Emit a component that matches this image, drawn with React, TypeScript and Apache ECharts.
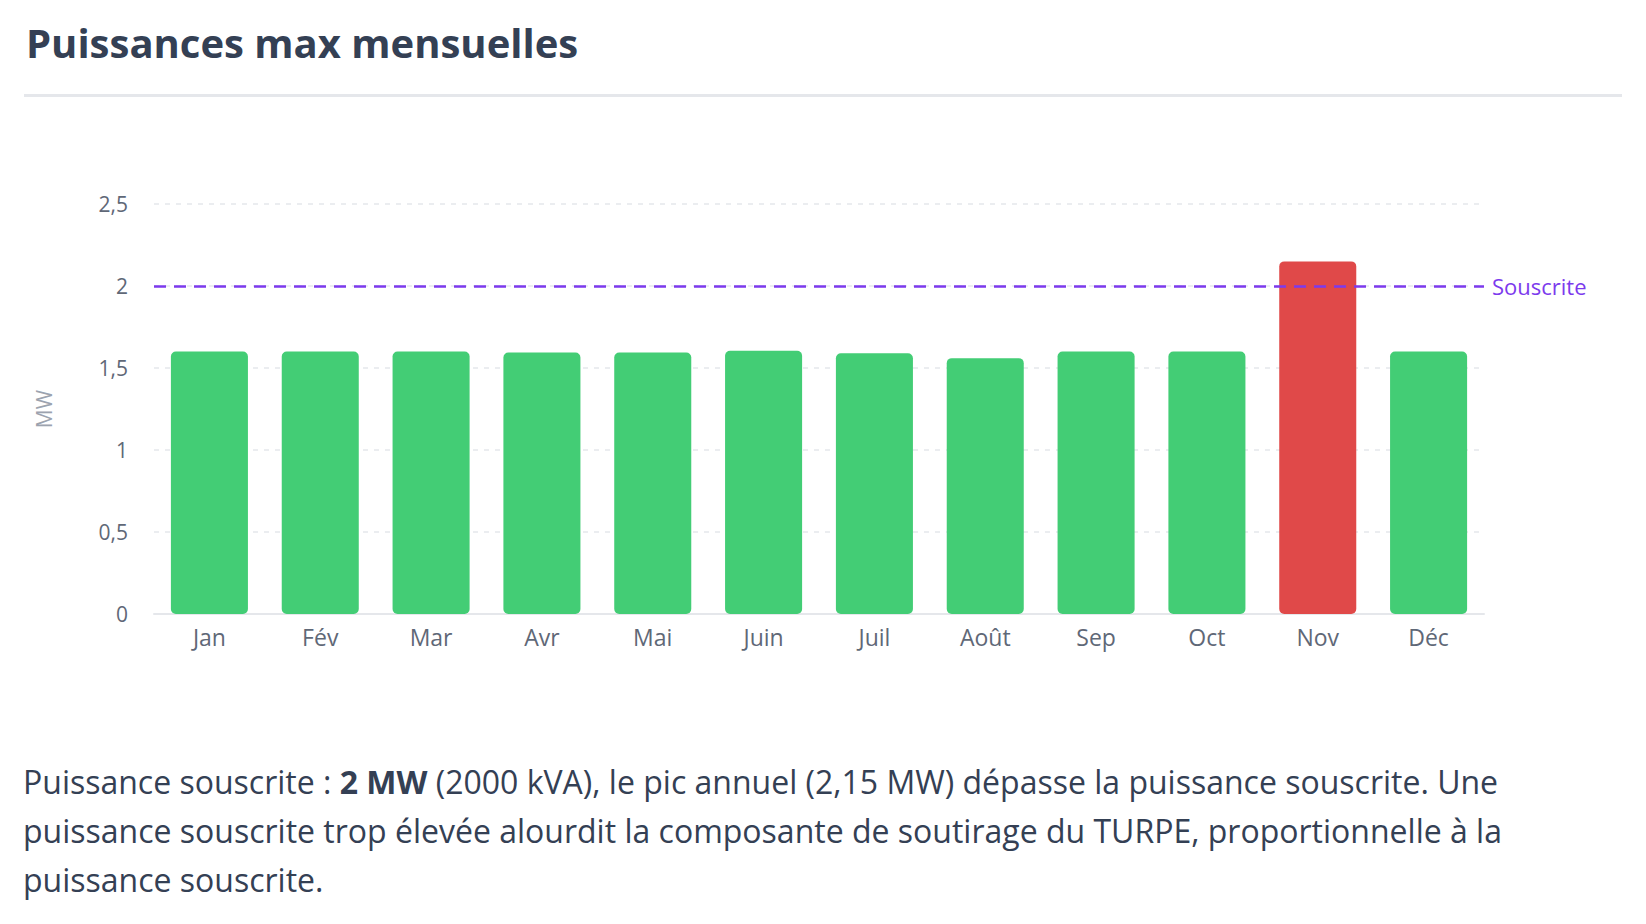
import React, { useEffect, useRef } from "react";
import * as echarts from "echarts";

// Monthly maximum demand (MW)
const months = ["Jan", "Fév", "Mar", "Avr", "Mai", "Juin", "Juil", "Août", "Sep", "Oct", "Nov", "Déc"];
const peakMW = [1.6, 1.6, 1.6, 1.595, 1.595, 1.605, 1.59, 1.56, 1.6, 1.6, 2.15, 1.6];
const subscribedMW = 2;
const yTicks = { min: 0, max: 2.5, interval: 0.5 };

const titleText = "Puissances max mensuelles";
const noteLines = [
  "Puissance souscrite : {b|2 MW} (2000 kVA), le pic annuel (2,15 MW) dépasse la puissance souscrite. Une",
  "puissance souscrite trop élevée alourdit la composante de soutirage du TURPE, proportionnelle à la",
  "puissance souscrite.",
];

const FONT = "'Open Sans', 'Noto Sans', sans-serif";
const GREEN = "#43cd75";
const RED = "#e04949";
const PURPLE = "#7c3aed";
const INK = "#344054";
const AXIS_TEXT = "#5f6877";
const RULE = "#e5e7eb";

export default function App() {
  const ref = useRef<HTMLDivElement>(null);

  useEffect(() => {
    if (!ref.current) return;
    const chart = echarts.init(ref.current, undefined, { renderer: "svg" });

    const fmt = (v: number) => String(v).replace(".", ",");

    chart.setOption({
      animation: false,
      backgroundColor: "#ffffff",
      textStyle: { fontFamily: FONT },
      title: {
        text: titleText,
        left: 21,
        top: 17,
        textStyle: { fontFamily: FONT, fontSize: 40, fontWeight: 700, color: INK },
      },
      grid: { left: 154, right: 162, top: 204, bottom: 310, containLabel: false },
      xAxis: {
        type: "category",
        data: months,
        axisLine: { show: true, lineStyle: { color: RULE, width: 2 } },
        axisTick: { show: false },
        axisLabel: { color: AXIS_TEXT, fontSize: 23, margin: 11, fontFamily: FONT },
      },
      yAxis: {
        type: "value",
        min: yTicks.min,
        max: yTicks.max,
        interval: yTicks.interval,
        name: "MW",
        nameLocation: "middle",
        nameGap: 100,
        nameTextStyle: { color: "#9ca3af", fontSize: 21, fontFamily: FONT },
        axisLine: { show: false },
        axisTick: { show: false },
        axisLabel: { color: AXIS_TEXT, fontSize: 21, margin: 26, fontFamily: FONT, formatter: fmt },
        splitLine: { lineStyle: { color: RULE, width: 1.5, type: [5, 6] } },
      },
      series: [
        {
          type: "bar",
          barWidth: "69.5%",
          data: peakMW.map((v) => ({
            value: v,
            itemStyle: { color: v > subscribedMW ? RED : GREEN, borderRadius: 5 },
          })),
          markLine: {
            silent: true,
            symbol: "none",
            lineStyle: { color: PURPLE, width: 2.5, type: [12, 8] },
            label: {
              show: true,
              position: "end",
              distance: 8,
              formatter: "Souscrite",
              color: PURPLE,
              fontSize: 22,
              fontFamily: FONT,
            },
            data: [{ yAxis: subscribedMW }],
          },
        },
      ],
      graphic: [
        {
          type: "rect",
          shape: { x: 24, y: 94, width: 1598, height: 3 },
          style: { fill: RULE },
        },
        {
          type: "text",
          left: 23,
          top: 757,
          style: {
            text: noteLines.join("\n"),
            fontFamily: FONT,
            fontSize: 32,
            lineHeight: 49,
            fill: INK,
            rich: {
              b: { fontFamily: FONT, fontSize: 32, lineHeight: 49, fontWeight: 700, fill: INK },
            },
          },
        },
      ],
    });

    return () => chart.dispose();
  }, []);

  return (
    <div
      ref={ref}
      style={{ position: "fixed", left: 0, top: 0, width: 1646, height: 924, background: "#fff" }}
    />
  );
}
